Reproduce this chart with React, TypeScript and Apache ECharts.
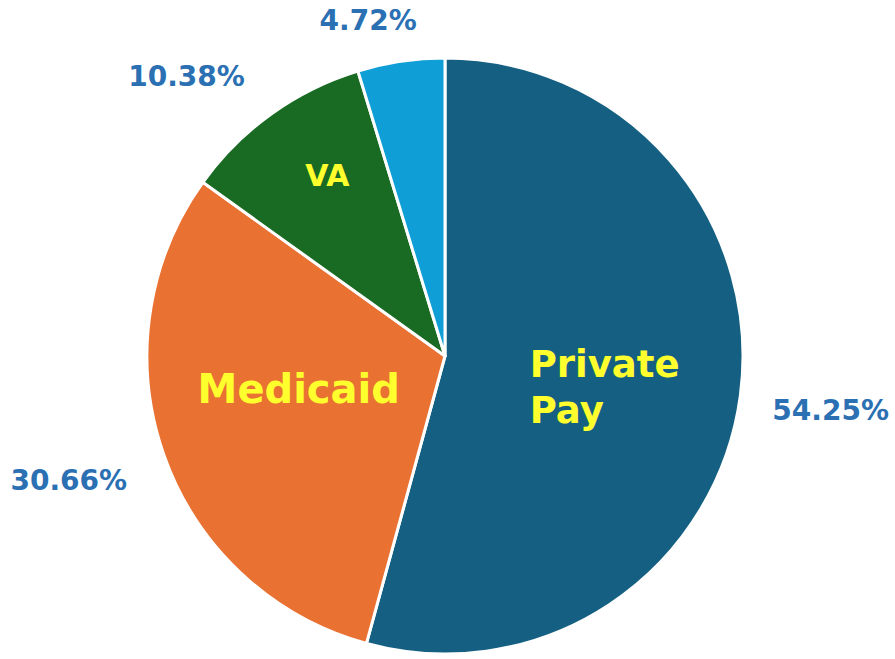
import React, { useEffect, useRef } from "react";
import * as echarts from "echarts";

const CATEGORIES = ["Private Pay", "Medicaid", "VA", "Other"];
const INNER_LABELS = ["{l|Private}\n{l|Pay}", "Medicaid", "VA", ""];
const VALUES = [54.25, 30.66, 10.38, 4.72];
const COLORS = ["#156082", "#E97132", "#196B24", "#0F9ED5"];

// label nudges (pixels) relative to the library's computed label anchor
const INNER_NUDGE = [[9, 11], [-3, -18], [-29, -57], [0, 0]];
const OUTER_NUDGE = [[11, 4], [-20, -2], [-38, 28], [-21, 38]];
const INNER_SIZE = [37, 40, 30, 0];

export default function App() {
  const ref = useRef<HTMLDivElement>(null);
  useEffect(() => {
    document.body.style.margin = "0";
    const chart = echarts.init(ref.current!, null, { renderer: "svg" });
    const center = [445, 356];
    const R = 298;
    chart.setOption({
      animation: false,
      backgroundColor: "#ffffff",
      series: [
        {
          type: "pie",
          center,
          radius: [0, R],
          startAngle: 90,
          clockwise: true,
          silent: true,
          itemStyle: { borderColor: "#ffffff", borderWidth: 3 },
          labelLine: { show: false },
          data: CATEGORIES.map((c, i) => ({
            name: c,
            value: VALUES[i],
            itemStyle: { color: COLORS[i] },
            label: {
              show: INNER_LABELS[i] !== "",
              position: "inside",
              formatter: INNER_LABELS[i],
              color: "#FFFF2E",
              fontFamily: "DejaVu Sans",
              fontWeight: "bold",
              fontSize: INNER_SIZE[i],
              lineHeight: 46,
              rich: {
                l: {
                  color: "#FFFF2E",
                  fontFamily: "DejaVu Sans",
                  fontWeight: "bold",
                  fontSize: INNER_SIZE[i],
                  lineHeight: 46,
                  align: "left",
                },
              },
            },
          })),
          labelLayout: (p: any) => ({
            dx: INNER_NUDGE[p.dataIndex][0],
            dy: INNER_NUDGE[p.dataIndex][1],
          }),
        },
        {
          type: "pie",
          center,
          radius: [355, 395],
          startAngle: 90,
          clockwise: true,
          silent: true,
          itemStyle: { color: "rgba(0,0,0,0)" },
          labelLine: { show: false },
          emphasis: { disabled: true },
          label: {
            show: true,
            position: "inside",
            formatter: (p: any) => VALUES[p.dataIndex].toFixed(2) + "%",
            color: "#2A70B3",
            fontFamily: "DejaVu Sans",
            fontWeight: "bold",
            fontSize: 28,
          },
          data: CATEGORIES.map((c, i) => ({ name: c, value: VALUES[i] })),
          labelLayout: (p: any) => ({
            dx: OUTER_NUDGE[p.dataIndex][0],
            dy: OUTER_NUDGE[p.dataIndex][1],
          }),
        },
      ],
    });
    return () => chart.dispose();
  }, []);
  return (
    <div
      ref={ref}
      style={{ position: "absolute", left: 0, top: 0, width: 895, height: 659 }}
    />
  );
}
